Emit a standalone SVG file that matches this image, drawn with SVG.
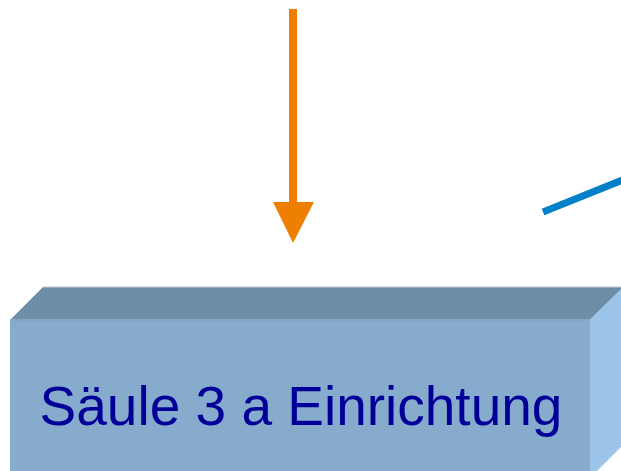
<svg xmlns="http://www.w3.org/2000/svg" width="621" height="471" viewBox="0 0 621 471">
<style>
.lbl{font-family:"Liberation Sans",Arial,sans-serif;font-size:55px;fill:#000099}
.orange{fill:#ee7f00;stroke:#ee7f00}
</style>
<rect width="621" height="471" fill="#ffffff"/>
<g id="box">
<polygon points="10,320 43,287 624,287 590,320" fill="#6e8da9" stroke="#c8c8c8" stroke-width="1"/>
<polygon points="590,320 623,287 623,445 590,478" fill="#9cc4e8"/>
<rect x="10" y="320" width="580" height="160" fill="#86abcd"/>
<line x1="10" y1="320" x2="590" y2="320" stroke="#7d9fbf" stroke-width="1"/>
<text class="lbl" x="301" y="425" text-anchor="middle">Säule 3 a Einrichtung</text>
</g>
<g id="connectors">
<line x1="293" y1="9" x2="293" y2="205" class="orange" stroke-width="8"/>
<polygon points="273,202 314,202 293,243" class="orange" stroke-width="0"/>
<line x1="543" y1="212" x2="630" y2="177" stroke="#0080c8" stroke-width="7"/>
</g>
</svg>
